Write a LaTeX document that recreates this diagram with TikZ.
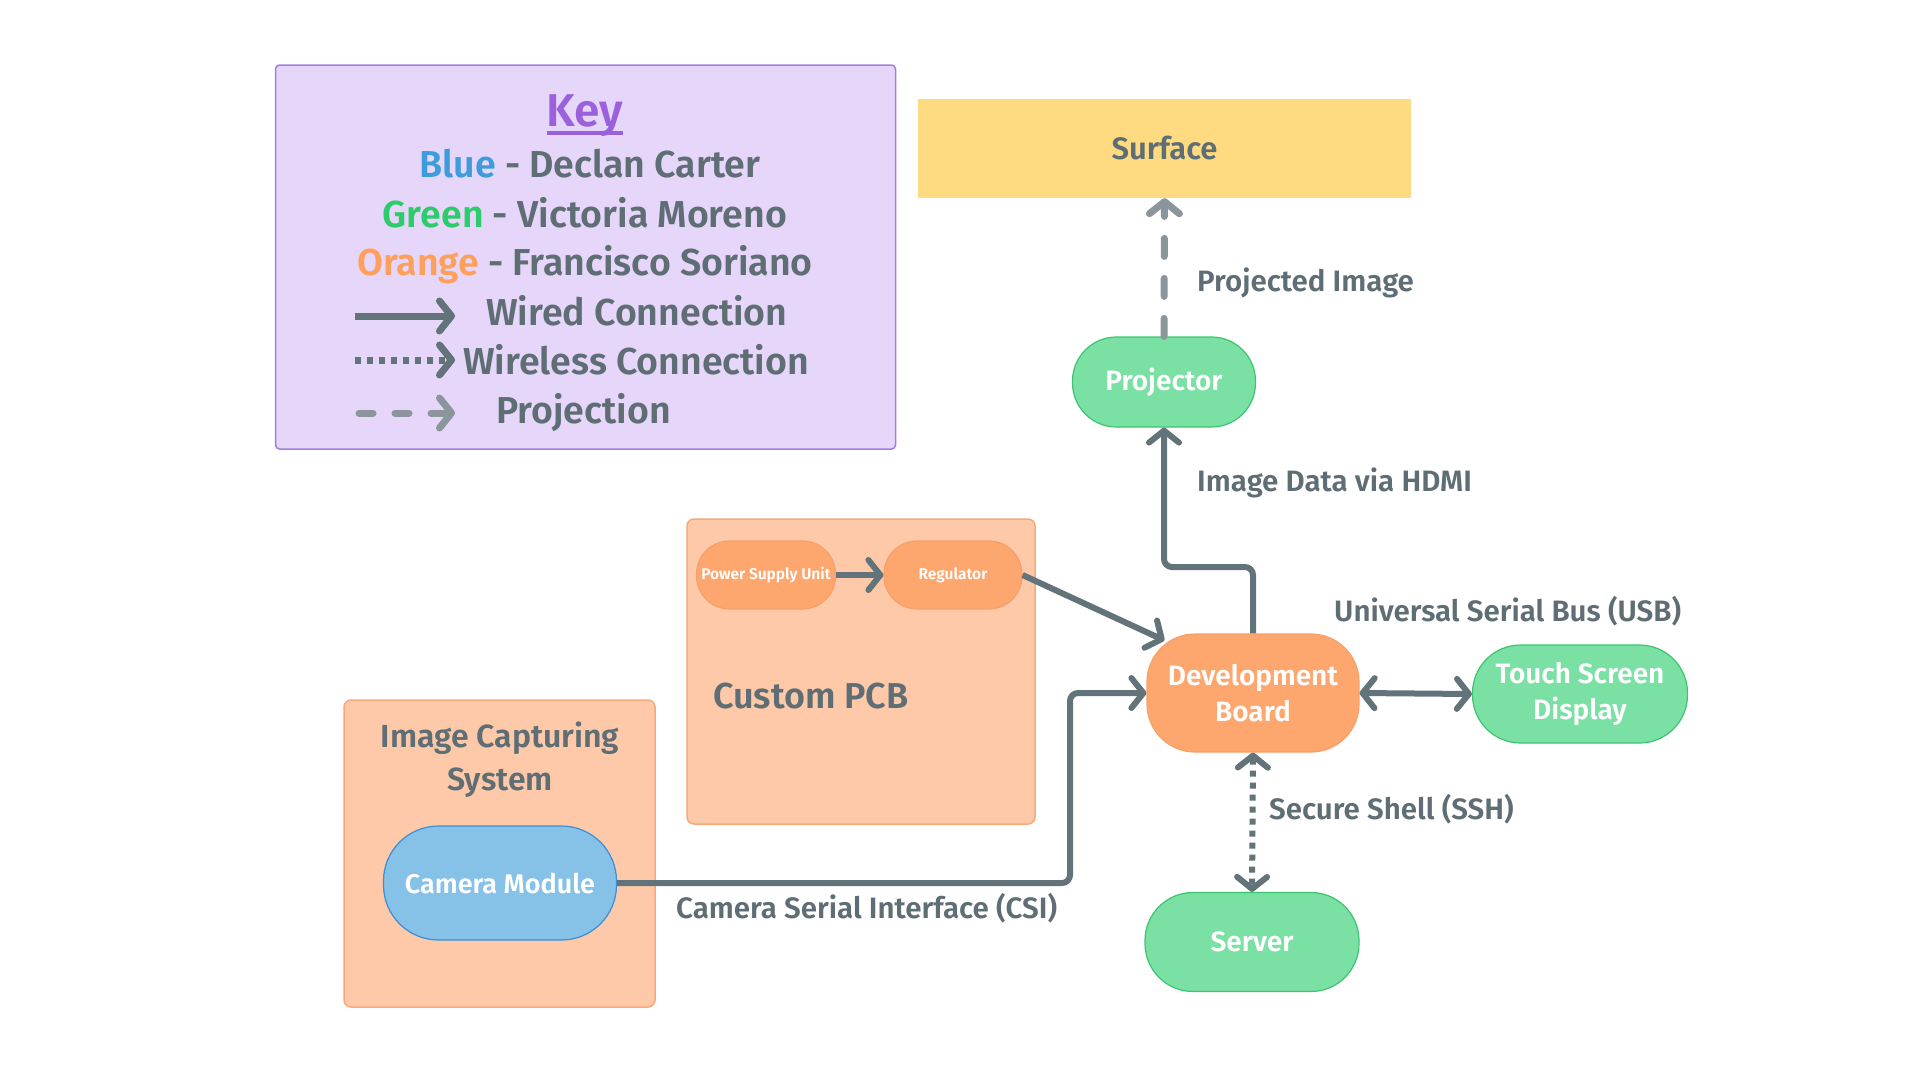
\documentclass[tikz,border=0pt]{standalone}
\usepackage{fontspec}
\setmainfont{Fira Sans SemiBold}
\usetikzlibrary{arrows.meta,calc}

\definecolor{txtgray}{HTML}{5F6E75}
\definecolor{wiregray}{HTML}{627379}
\definecolor{projgray}{HTML}{8A959C}
\definecolor{keyfill}{HTML}{E6D6F9}
\definecolor{keyline}{HTML}{A57DE0}
\definecolor{keypurple}{HTML}{9B61DC}
\definecolor{keyblue}{HTML}{3C9CDC}
\definecolor{keygreen}{HTML}{2DCC6B}
\definecolor{keyorange}{HTML}{FF9F5C}
\definecolor{grpfill}{HTML}{FEC9A8}
\definecolor{grpline}{HTML}{F9A877}
\definecolor{orfill}{HTML}{FDA76F}
\definecolor{orline}{HTML}{F7A06A}
\definecolor{grfill}{HTML}{7BE0A4}
\definecolor{grline}{HTML}{3CC56F}
\definecolor{blfill}{HTML}{86C1E8}
\definecolor{blline}{HTML}{3A8FD6}
\definecolor{surffill}{HTML}{FEDB80}

\begin{document}
\begin{tikzpicture}[x=1pt,y=-1pt,
	tip/.style={-{Straight Barb[length=12pt,width=30pt,round]}},
	wired/.style={draw=wiregray,line width=6pt,tip},
	wireless/.style={draw=wiregray,line width=6pt,dash pattern=on 6pt off 6pt,tip},
	projline/.style={draw=projgray,line width=7pt,line cap=round,dash pattern=on 18pt off 22pt,tip},
	grpbox/.style={draw=grpline,fill=grpfill,line width=1.5pt,rounded corners=7pt},
	unit/.style={line width=1.2pt,text=white,align=center,inner sep=0pt,font=\fontsize{28}{36}\selectfont},
	orunit/.style={unit,draw=orline,fill=orfill},
	grunit/.style={unit,draw=grline,fill=grfill},
	blunit/.style={unit,draw=blline,fill=blfill},
	smallunit/.style={orunit,minimum width=139pt,minimum height=68pt,rounded corners=33pt,font=\fontsize{15.5}{18}\selectfont},
	lbl/.style={text=txtgray,anchor=west,inner sep=0pt,font=\fontsize{29.5}{35}\selectfont},
	keytxt/.style={text=txtgray,inner sep=0pt,font=\fontsize{37.5}{44}\selectfont}]

	\fill[white] (0,0) rectangle (1920,1080);
	\useasboundingbox (0,0) rectangle (1920,1080);

	% key
	\node[draw=keyline,fill=keyfill,line width=1.5pt,rounded corners=4pt,minimum width=620pt,minimum height=384pt] (key) at (585.5,257) {};
	\node[inner sep=0pt,text=keypurple,font=\fontsize{46}{54}\selectfont] (keytitle) at (585,116) {Key};
	\draw[keypurple,line width=3.5pt] ($(keytitle.base west)+(0,6)$) -- ($(keytitle.base east)+(0,6)$);
	\node[keytxt] (kblue) at (590,164) {\textcolor{keyblue}{Blue} - Declan Carter};
	\node[keytxt] (kgreen) at (585,213) {\textcolor{keygreen}{Green} - Victoria Moreno};
	\node[keytxt] (korange) at (585,265) {\textcolor{keyorange}{Orange} - Francisco Soriano};
	\node[keytxt,anchor=west] (kwired) at (486,311) {Wired Connection};
	\node[keytxt,anchor=west] (kwireless) at (463,360) {Wireless Connection};
	\node[keytxt,anchor=west] (kproj) at (496,413) {Projection};
	\coordinate (kw1) at (355,316); \coordinate (kw2) at (455,316);
	\coordinate (kl1) at (355,360); \coordinate (kl2) at (455,360);
	\coordinate (kp1) at (359,413); \coordinate (kp2) at (455,413);
	\draw[wired,line width=7pt] (kw1) -- (kw2);
	\draw[wireless,line width=7pt] (kl1) -- (kl2);
	\draw[projline,dash pattern=on 14pt off 22pt] (kp1) -- (kp2);

	% groups
	\node[grpbox,minimum width=348pt,minimum height=305pt] (pcb) at (861,671.5) {};
	\node[lbl,font=\fontsize{36}{42}\selectfont] (pcbname) at (713,696) {Custom PCB};
	\node[grpbox,minimum width=311pt,minimum height=307pt] (ics) at (499.5,853.5) {};
	\node[text=txtgray,align=center,inner sep=0pt,font=\fontsize{32}{43}\selectfont] (icsname) at (500,760) {Image Capturing\\System};

	% units
	\node[fill=surffill,minimum width=493pt,minimum height=99pt,text=txtgray,font=\fontsize{31}{36}\selectfont] (surf) at (1164.5,148.5) {Surface};
	\node[grunit,minimum width=183pt,minimum height=90pt,rounded corners=44pt] (proj) at (1164,382) {Projector};
	\node[orunit,minimum width=212pt,minimum height=118pt,rounded corners=48pt] (dev) at (1253,693) {Development\\Board};
	\node[grunit,minimum width=215pt,minimum height=98pt,rounded corners=48pt] (touch) at (1580,694) {Touch Screen\\Display};
	\node[grunit,minimum width=214pt,minimum height=99pt,rounded corners=48pt] (srv) at (1252,942) {Server};
	\node[blunit,minimum width=233pt,minimum height=114pt,rounded corners=55pt,font=\fontsize{27}{32}\selectfont] (cam) at (500,883) {Camera Module};
	\node[smallunit] (psu) at (766,575) {Power Supply Unit};
	\node[smallunit,minimum width=138pt] (reg) at (953,575) {Regulator};

	% connectors
	\coordinate (hdmibend) at (1164,567);
	\coordinate (csibend) at (1070,883);
	\draw[projline] (proj.north) -- (surf.south);
	\draw[wired,rounded corners=8pt] (dev.north) |- (hdmibend) -- (proj.south);
	\draw[wired] (psu.east) -- (reg.west);
	\draw[wired] (reg.east) -- ($(dev.north west)+(18,7)$);
	\draw[wired,rounded corners=8pt] (cam.east) -- (csibend) |- (dev.west);
	\draw[wired,{Straight Barb[length=12pt,width=30pt,round]}-{Straight Barb[length=12pt,width=30pt,round]}] (dev.east) -- (touch.west);
	\draw[wireless,{Straight Barb[length=12pt,width=30pt,round]}-{Straight Barb[length=12pt,width=30pt,round]}] (dev.south) -- (srv.north);

	% labels
	\node[lbl] (lproj) at (1197,283) {Projected Image};
	\node[lbl] (lhdmi) at (1197,483) {Image Data via HDMI};
	\node[lbl] (lusb) at (1334,611) {Universal Serial Bus (USB)};
	\node[lbl] (lssh) at (1269,809) {Secure Shell (SSH)};
	\node[lbl] (lcsi) at (676,908) {Camera Serial Interface (CSI)};
\end{tikzpicture}
\end{document}
